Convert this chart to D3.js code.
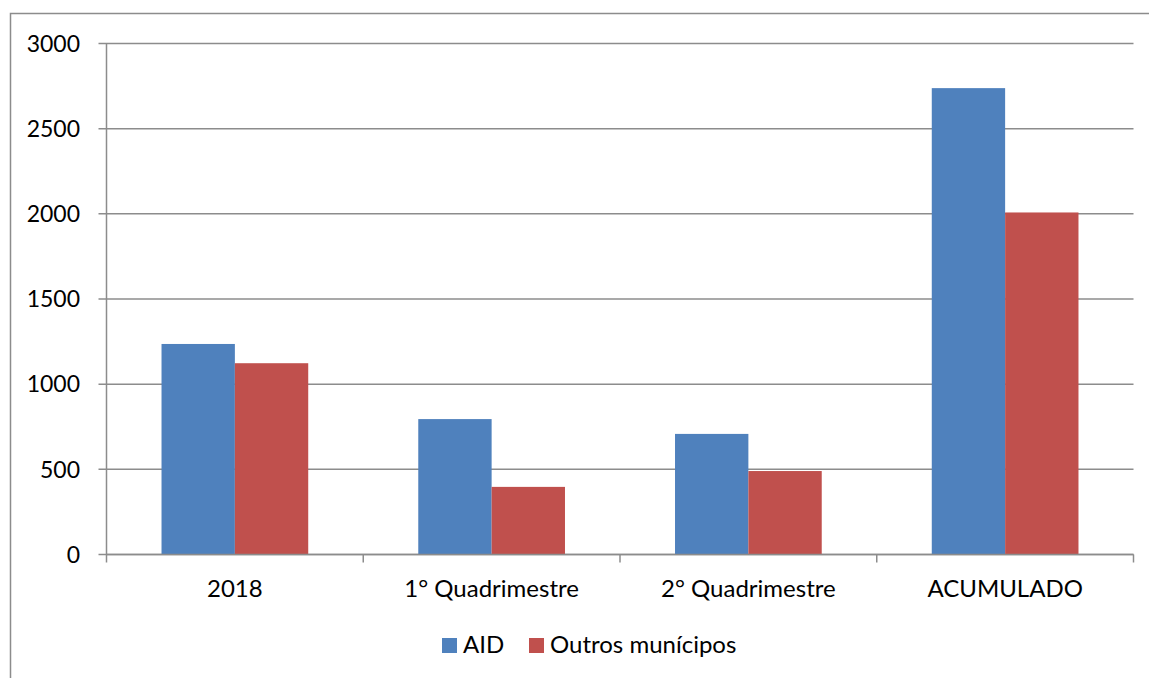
<!DOCTYPE html>
<html><head><meta charset="utf-8">
<script src="https://cdn.jsdelivr.net/npm/d3@7"></script>
<style>body{margin:0;background:#fff;} svg{display:block;}</style>
</head><body>
<script>
const categories = ["2018", "1° Quadrimestre", "2° Quadrimestre", "ACUMULADO"];
const seriesNames = ["AID", "Outros munícipos"];
const aidValues = [1236, 795, 708, 2738];
const outrosValues = [1123, 397, 490, 2008];
const yTicks = [0, 500, 1000, 1500, 2000, 2500, 3000];
const colors = ["#4F81BD", "#C0504D"];

const W = 1149, H = 678;
const mLeft = 106.5, mRight = 1133.5, mTop = 43.5, mBottom = 554.5;
const font = "Lato, 'Open Sans', sans-serif";
const svg = d3.select("body").append("svg").attr("width", W).attr("height", H);

// outer border
svg.append("path").attr("d", `M10.5,${H+5}V13.5H${W+5}`).attr("fill","none")
  .attr("stroke","#8c8c8c").attr("stroke-width",1.5);

const x = d3.scaleBand().domain(categories).range([mLeft, mRight]).paddingInner(0).paddingOuter(0);
const y = d3.scaleLinear().domain([0, 3000]).range([mBottom, mTop]);
const xs = d3.scaleBand().domain(seriesNames).range([0, x.bandwidth()]).paddingInner(0).paddingOuter(0.75);

// gridlines
svg.append("g").selectAll("line").data(yTicks).join("line")
  .attr("x1", mLeft - 8).attr("x2", mRight)
  .attr("y1", d => y(d)).attr("y2", d => y(d))
  .attr("stroke", "#8c8c8c").attr("stroke-width", 1.5);

// bars
const series = [aidValues, outrosValues];
series.forEach((vals, si) => {
  svg.append("g").selectAll("rect").data(categories).join("rect")
    .attr("x", c => x(c) + xs(seriesNames[si]))
    .attr("width", xs.bandwidth())
    .attr("y", (c, i) => y(vals[i]))
    .attr("height", (c, i) => mBottom - y(vals[i]))
    .attr("fill", colors[si]);
});

// axes lines
svg.append("line").attr("x1", mLeft).attr("x2", mLeft).attr("y1", mTop).attr("y2", mBottom)
  .attr("stroke", "#8c8c8c").attr("stroke-width", 1.5);
svg.append("line").attr("x1", mLeft).attr("x2", mRight).attr("y1", mBottom).attr("y2", mBottom)
  .attr("stroke", "#8c8c8c").attr("stroke-width", 1.5);
const bounds = categories.map(c => x(c)).concat([mRight]);
svg.append("g").selectAll("line").data(bounds).join("line")
  .attr("x1", d => d).attr("x2", d => d).attr("y1", mBottom).attr("y2", mBottom + 8)
  .attr("stroke", "#8c8c8c").attr("stroke-width", 1.5);

// y tick labels
svg.append("g").selectAll("text").data(yTicks).join("text")
  .attr("x", 80).attr("y", d => y(d)).attr("dy", "0.36em")
  .attr("text-anchor", "end").attr("font-family", font).attr("font-size", 23).attr("fill", "#000")
  .text(d => d);

// x labels
svg.append("g").selectAll("text").data(categories).join("text")
  .attr("x", c => x(c) + x.bandwidth() / 2).attr("y", 597)
  .attr("text-anchor", "middle").attr("font-family", font).attr("font-size", 24).attr("fill", "#000")
  .text(c => c);

// legend
const legX = [442, 529];
seriesNames.forEach((n, i) => {
  svg.append("rect").attr("x", legX[i]).attr("y", 638).attr("width", 15).attr("height", 15).attr("fill", colors[i]);
  svg.append("text").attr("x", legX[i] + 21).attr("y", 653).attr("font-family", font).attr("font-size", 24)
    .attr("fill", "#000").text(n);
});
</script>
</body></html>
